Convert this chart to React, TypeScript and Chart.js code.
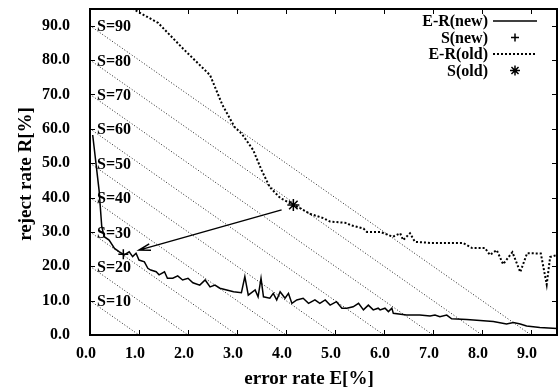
import React, { useEffect, useRef } from "react";
import { Chart, registerables } from "chart.js";
Chart.register(...registerables);

// ---- data ----
const xTickValues = [0, 1, 2, 3, 4, 5, 6, 7, 8, 9];
const yTickValues = [0, 10, 20, 30, 40, 50, 60, 70, 80, 90];
const sLevels = [10, 20, 30, 40, 50, 60, 70, 80, 90];

const newE = [0.055, 0.186, 0.24, 0.29, 0.39, 0.5, 0.6, 0.7, 0.8, 0.87, 0.94, 1.0, 1.11, 1.18, 1.24, 1.35, 1.41, 1.52, 1.58, 1.69, 1.79, 1.89, 2.0, 2.1, 2.24, 2.35, 2.45, 2.55, 2.65, 2.93, 3.09, 3.16, 3.23, 3.37, 3.43, 3.49, 3.54, 3.67, 3.74, 3.81, 3.88, 3.98, 4.05, 4.12, 4.22, 4.35, 4.46, 4.59, 4.69, 4.8, 4.9, 5.03, 5.14, 5.24, 5.37, 5.48, 5.58, 5.68, 5.78, 5.88, 5.92, 6.02, 6.09, 6.16, 6.19, 6.46, 6.73, 6.94, 7.04, 7.14, 7.28, 7.38, 7.69, 7.96, 8.23, 8.5, 8.64, 8.78, 8.91, 9.18, 9.53];
const newR = [58.2, 42.0, 31.5, 28.6, 27.6, 25.2, 24.2, 23.3, 24.2, 22.8, 23.8, 21.8, 21.3, 19.4, 18.9, 18.4, 17.5, 18.4, 16.5, 16.5, 17.2, 16.0, 16.5, 15.2, 14.5, 16.0, 14.0, 14.5, 13.6, 12.6, 12.3, 17.0, 11.6, 13.1, 11.1, 16.5, 11.1, 10.7, 12.1, 10.2, 12.6, 10.7, 12.1, 9.2, 10.2, 10.7, 9.2, 10.2, 9.2, 10.2, 8.7, 9.7, 7.8, 7.8, 8.2, 9.2, 7.3, 8.7, 7.3, 7.8, 7.3, 7.8, 6.8, 7.8, 6.3, 5.8, 5.8, 5.5, 5.8, 5.3, 5.8, 4.7, 4.5, 4.2, 3.9, 3.2, 3.6, 3.2, 2.6, 2.2, 1.9];

const oldE = [0.86, 1.39, 1.9, 2.45, 2.7, 2.95, 3.1, 3.33, 3.5, 3.67, 3.88, 4.15, 4.3, 4.5, 4.76, 4.9, 5.24, 5.31, 5.58, 5.65, 5.92, 6.18, 6.33, 6.39, 6.53, 6.63, 6.94, 7.61, 7.8, 8.06, 8.16, 8.3, 8.43, 8.62, 8.78, 8.92, 9.2, 9.32, 9.39, 9.53];
const oldR = [95.0, 90.8, 83.3, 75.6, 67.0, 60.5, 58.5, 53.8, 48.0, 43.0, 39.9, 37.8, 36.8, 35.2, 34.0, 33.0, 32.6, 32.0, 31.0, 30.0, 30.0, 28.6, 29.6, 27.6, 29.6, 27.1, 26.8, 26.8, 25.3, 25.3, 23.3, 24.7, 20.6, 24.1, 18.3, 23.8, 23.7, 14.7, 22.7, 23.3];

const sNewPoint = { e: 0.68, r: 23.5 };
const sOldPoint = { e: 4.15, r: 37.8 };
const arrowFrom = { e: 3.91, r: 36.4 };
const arrowTo = { e: 1.0, r: 24.7 };

const legendLabels = ["E-R(new)", "S(new)", "E-R(old)", "S(old)"];
const xTitle = "error rate E[%]";
const yTitle = "reject rate R[%]";
const X_MAX = 9.53;
const Y_MAX = 94.85;

const FONT = '"Liberation Serif", "Times New Roman", serif';

const decorPlugin = {
  id: "decor",
  afterDraw(chart: any) {
    const { ctx, chartArea, scales } = chart;
    const xs = scales.x;
    const ys = scales.y;
    const { left, right, top, bottom } = chartArea;
    ctx.save();
    ctx.strokeStyle = "#000";
    ctx.fillStyle = "#000";

    // tick marks (inward, mirrored)
    ctx.lineWidth = 1;
    ctx.beginPath();
    xTickValues.forEach((v) => {
      const px = Math.round(xs.getPixelForValue(v)) + 0.5;
      ctx.moveTo(px, bottom);
      ctx.lineTo(px, bottom - 5);
      ctx.moveTo(px, top);
      ctx.lineTo(px, top + 5);
    });
    yTickValues.forEach((v) => {
      const py = Math.round(ys.getPixelForValue(v)) + 0.5;
      ctx.moveTo(left, py);
      ctx.lineTo(left + 5, py);
      ctx.moveTo(right, py);
      ctx.lineTo(right - 5, py);
    });
    ctx.stroke();

    // frame
    ctx.lineWidth = 2;
    ctx.strokeRect(left, top, right - left, bottom - top);

    // S labels
    ctx.font = `bold 16px ${FONT}`;
    ctx.textAlign = "left";
    ctx.textBaseline = "middle";
    sLevels.forEach((s) => {
      const py = ys.getPixelForValue(s);
      ctx.fillText(`S=${s}`, left + 7, py + 1.5);
    });

    // arrow
    const ax0 = xs.getPixelForValue(arrowFrom.e);
    const ay0 = ys.getPixelForValue(arrowFrom.r);
    const ax1 = xs.getPixelForValue(arrowTo.e);
    const ay1 = ys.getPixelForValue(arrowTo.r);
    ctx.lineWidth = 1.5;
    ctx.beginPath();
    ctx.moveTo(ax0, ay0);
    ctx.lineTo(ax1, ay1);
    const ang = Math.atan2(ay0 - ay1, ax0 - ax1);
    const hl = 12;
    const ha = 0.28;
    ctx.moveTo(ax1 + hl * Math.cos(ang + ha), ay1 + hl * Math.sin(ang + ha));
    ctx.lineTo(ax1, ay1);
    ctx.lineTo(ax1 + hl * Math.cos(ang - ha), ay1 + hl * Math.sin(ang - ha));
    ctx.stroke();

    // legend
    const rowsY = [21, 37.5, 54, 70.5];
    ctx.font = `bold 16px ${FONT}`;
    ctx.textAlign = "right";
    ctx.textBaseline = "middle";
    legendLabels.forEach((t, i) => ctx.fillText(t, 488, rowsY[i] + 1));
    // samples
    ctx.lineWidth = 1.5;
    ctx.setLineDash([]);
    ctx.beginPath();
    ctx.moveTo(493, rowsY[0]);
    ctx.lineTo(537, rowsY[0]);
    ctx.stroke();
    ctx.beginPath();
    ctx.moveTo(511, rowsY[1]);
    ctx.lineTo(519, rowsY[1]);
    ctx.moveTo(515, rowsY[1] - 4);
    ctx.lineTo(515, rowsY[1] + 4);
    ctx.stroke();
    ctx.lineWidth = 2;
    ctx.setLineDash([2, 2]);
    ctx.beginPath();
    ctx.moveTo(493, rowsY[2]);
    ctx.lineTo(537, rowsY[2]);
    ctx.stroke();
    ctx.setLineDash([]);
    ctx.lineWidth = 1.5;
    ctx.beginPath();
    const r = 5;
    for (let k = 0; k < 4; k++) {
      const a = (k * Math.PI) / 4;
      ctx.moveTo(515 - r * Math.cos(a), rowsY[3] - r * Math.sin(a));
      ctx.lineTo(515 + r * Math.cos(a), rowsY[3] + r * Math.sin(a));
    }
    ctx.stroke();

    // axis titles
    ctx.font = `bold 19px ${FONT}`;
    ctx.textAlign = "center";
    ctx.textBaseline = "alphabetic";
    ctx.fillText(xTitle, 309, 384);
    ctx.save();
    ctx.translate(31, 174);
    ctx.rotate(-Math.PI / 2);
    ctx.font = `bold 19px ${FONT}`;
    ctx.textBaseline = "alphabetic";
    ctx.fillText(yTitle, 0, 0);
    ctx.restore();

    ctx.restore();
  },
};

export default function App() {
  const ref = useRef<HTMLCanvasElement>(null);
  useEffect(() => {
    const canvas = ref.current!;
    const sDatasets = sLevels.map((s) => ({
      label: `S=${s}`,
      data: [
        { x: 0, y: s },
        { x: s / 10, y: 0 },
      ],
      showLine: true,
      borderColor: "#222",
      borderWidth: 1,
      borderDash: [1, 2],
      pointRadius: 0,
      order: 10,
    }));
    const chart = new Chart(canvas, {
      type: "scatter",
      data: {
        datasets: [
          ...sDatasets,
          {
            label: "E-R(new)",
            data: newE.map((e, i) => ({ x: e, y: newR[i] })),
            showLine: true,
            borderColor: "#000",
            borderWidth: 1.5,
            pointRadius: 0,
            tension: 0,
          },
          {
            label: "S(new)",
            data: [{ x: sNewPoint.e, y: sNewPoint.r }],
            pointStyle: "cross",
            pointRadius: 5,
            borderColor: "#000",
            backgroundColor: "#000",
            borderWidth: 1.5,
          },
          {
            label: "E-R(old)",
            data: oldE.map((e, i) => ({ x: e, y: oldR[i] })),
            showLine: true,
            borderColor: "#000",
            borderWidth: 2,
            borderDash: [2, 2],
            pointRadius: 0,
            tension: 0,
          },
          {
            label: "S(old)",
            data: [{ x: sOldPoint.e, y: sOldPoint.r }],
            pointStyle: "star",
            pointRadius: 6,
            borderColor: "#000",
            backgroundColor: "#000",
            borderWidth: 1.5,
          },
        ],
      },
      options: {
        responsive: false,
        animation: false,
        devicePixelRatio: 1,
        layout: { autoPadding: false, padding: { top: 9, right: 1, left: 0, bottom: 0 } },
        plugins: {
          legend: { display: false },
          tooltip: { enabled: false },
        },
        scales: {
          x: {
            type: "linear",
            min: 0,
            max: X_MAX,
            grid: { display: false, drawTicks: false },
            border: { display: false },
            ticks: {
              stepSize: 1,
              includeBounds: false,
              autoSkip: false,
              maxRotation: 0,
              padding: 9,
              labelOffset: -4,
              color: "#000",
              font: { family: FONT, weight: "bold", size: 16 },
              callback: (v: any) => Number(v).toFixed(1),
            },
            afterFit: (s: any) => {
              s.height = 54;
              s.paddingLeft = 0;
              s.paddingRight = 0;
              s.paddingTop = 0;
              s.paddingBottom = 0;
            },
          },
          y: {
            type: "linear",
            min: 0,
            max: Y_MAX,
            grid: { display: false, drawTicks: false },
            border: { display: false },
            ticks: {
              stepSize: 10,
              includeBounds: false,
              autoSkip: false,
              padding: 20,
              color: "#000",
              font: { family: FONT, weight: "bold", size: 16 },
              callback: (v: any) => Number(v).toFixed(1),
            },
            afterFit: (s: any) => {
              s.width = 90;
              s.paddingLeft = 0;
              s.paddingRight = 0;
              s.paddingTop = 0;
              s.paddingBottom = 0;
            },
          },
        },
      } as any,
      plugins: [decorPlugin],
    });
    return () => chart.destroy();
  }, []);
  return (
    <div style={{ position: "fixed", left: 0, top: 0, width: 558, height: 389, background: "#fff" }}>
      <canvas ref={ref} width={558} height={389} style={{ display: "block", width: 558, height: 389 }} />
    </div>
  );
}
